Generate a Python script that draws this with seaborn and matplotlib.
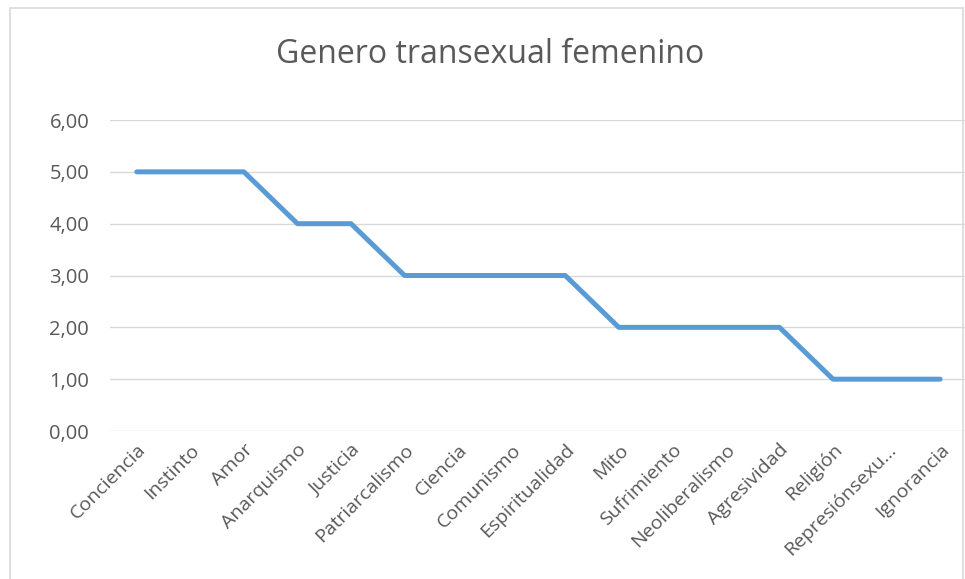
import seaborn as sns
import matplotlib.pyplot as plt
import pandas as pd
from matplotlib.patches import Rectangle

# Data
categorias = ['Conciencia', 'Instinto', 'Amor', 'Anarquismo', 'Justicia',
              'Patriarcalismo', 'Ciencia', 'Comunismo', 'Espiritualidad', 'Mito',
              'Sufrimiento', 'Neoliberalismo', 'Agresividad', 'Religión',
              'Represiónsexu…', 'Ignorancia']
valores = [5, 5, 5, 4, 4, 3, 3, 3, 3, 2, 2, 2, 2, 1, 1, 1]
y_ticks = [0, 1, 2, 3, 4, 5, 6]

df = pd.DataFrame({'categoria': categorias, 'valor': valores})

sns.set_style('white')
plt.rcParams['font.family'] = ['Open Sans', 'DejaVu Sans']

fig = plt.figure(figsize=(9.65, 5.79), dpi=100)
ax = fig.add_axes([0.114, 0.2556, 0.888, 0.5371])

sns.lineplot(data=df, x='categoria', y='valor', sort=False, ax=ax,
             color='#5B9BD5', linewidth=3.6)

ax.set_xlim(-0.5, len(categorias) - 0.5)
ax.set_ylim(0, 6)
ax.set_yticks(y_ticks)
ax.set_yticklabels([f'{v:.2f}'.replace('.', ',') for v in y_ticks],
                   fontsize=14.5, color='#595959')
ax.set_xticks(range(len(categorias)))
ax.set_xticklabels(categorias, rotation=45, ha='right', rotation_mode='anchor',
                   fontsize=14, color='#595959')
ax.tick_params(axis='y', length=0, pad=15)
ax.tick_params(axis='x', length=0, pad=7)
ax.grid(axis='y', color='#D9D9D9', linewidth=1)
ax.set_axisbelow(True)
for s in ax.spines.values():
    s.set_visible(False)
ax.set_xlabel('')
ax.set_ylabel('')

fig.text(0.508, 0.906, 'Genero transexual femenino', ha='center', va='center',
         fontsize=23, color='#595959')

# chart border
fig.patches.append(Rectangle((0.01, -0.01), 0.988, 0.996, transform=fig.transFigure,
                             fill=False, edgecolor='#D9D9D9', linewidth=1.2))

fig.savefig('out.png', dpi=100)
